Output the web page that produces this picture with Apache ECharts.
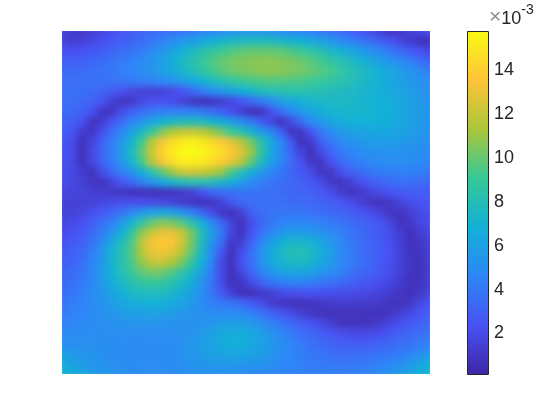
<!DOCTYPE html>
<html><head><meta charset="utf-8">
<style>html,body{margin:0;padding:0;background:#fff}#c{width:560px;height:420px}</style>
<script src="https://cdn.jsdelivr.net/npm/echarts@6/dist/echarts.min.js"></script>
</head><body><div id="c"></div>
<script>
// values in units of 1e-3, one list per row of the surface, top to bottom
const r00=[1.4,1.0,0.9,1.2,1.6,2.0,2.3,2.6,2.9,3.1,3.3,3.5,3.7,3.9,4.2,4.5,4.8,5.0,5.1,5.1,5.1,5.0,4.8,4.6,4.3,4.1,3.8,3.5,3.1,2.7,2.3,1.8,1.2,0.7,0.9,1.3,1.6,1.9];
const r01=[1.5,1.3,1.4,1.7,2.1,2.4,2.7,3.0,3.3,3.7,4.2,4.7,5.2,5.7,6.1,6.6,7.0,7.3,7.5,7.6,7.6,7.5,7.3,7.0,6.7,6.3,5.9,5.3,4.8,4.3,3.8,3.3,2.8,2.3,1.7,1.1,0.7,0.6];
const r02=[2.2,2.1,2.2,2.4,2.7,3.0,3.3,3.6,4.0,4.6,5.2,5.9,6.6,7.3,8.0,8.6,9.0,9.4,9.6,9.8,9.8,9.8,9.6,9.3,9.0,8.5,8.0,7.4,6.8,6.2,5.6,5.0,4.5,3.9,3.3,2.7,2.2,1.7];
const r03=[2.8,2.8,2.9,3.1,3.3,3.6,3.9,4.2,4.6,5.1,5.7,6.4,7.2,8.0,8.7,9.3,9.8,10.1,10.3,10.4,10.5,10.5,10.4,10.2,9.9,9.6,9.1,8.6,8.1,7.5,6.9,6.3,5.7,5.1,4.6,4.1,3.5,3.0];
const r04=[3.2,3.2,3.3,3.4,3.6,3.8,4.1,4.4,4.7,5.1,5.6,6.2,6.9,7.6,8.4,9.0,9.5,9.9,10.1,10.3,10.5,10.5,10.4,10.3,10.1,9.8,9.5,9.1,8.6,8.1,7.6,7.1,6.6,6.1,5.6,5.1,4.6,4.1];
const r05=[3.4,3.4,3.5,3.5,3.5,3.6,3.7,3.8,4.0,4.2,4.5,4.9,5.4,6.0,6.7,7.3,7.9,8.4,8.8,9.1,9.3,9.4,9.4,9.3,9.2,9.0,8.8,8.5,8.2,7.8,7.4,7.0,6.6,6.2,5.8,5.4,5.0,4.6];
const r06=[3.5,3.5,3.4,3.3,3.0,2.6,2.2,1.7,1.4,1.3,1.4,1.7,2.3,3.0,3.9,4.6,5.2,5.8,6.4,7.0,7.5,7.8,8.0,8.1,8.1,8.0,7.9,7.7,7.5,7.3,7.1,6.9,6.6,6.3,6.0,5.6,5.2,4.9];
const r07=[3.5,3.4,3.2,2.9,2.3,1.3,0.7,0.9,1.6,2.1,2.2,2.0,1.5,0.9,0.6,0.7,1.1,1.6,2.3,3.1,3.9,4.8,5.6,6.2,6.7,7.0,7.2,7.3,7.3,7.2,7.0,6.9,6.7,6.5,6.2,5.8,5.4,5.1];
const r08=[3.3,3.2,2.9,2.2,0.9,0.8,1.9,2.8,3.4,3.8,4.1,4.2,4.3,4.2,3.9,3.4,2.8,2.1,1.3,0.6,0.7,2.0,3.4,4.5,5.4,6.1,6.6,6.9,7.0,7.1,7.0,6.9,6.7,6.5,6.2,5.9,5.5,5.1];
const r09=[3.0,2.8,2.2,0.8,1.0,2.3,3.3,4.3,5.1,6.0,6.7,7.3,7.6,7.7,7.5,7.0,6.4,5.7,4.9,3.9,2.9,1.7,0.6,1.7,3.3,4.5,5.3,6.0,6.4,6.7,6.7,6.7,6.6,6.4,6.2,5.8,5.4,5.1];
const r10=[2.7,2.4,1.2,0.8,2.1,3.4,4.5,5.8,7.2,8.8,10.2,11.2,11.8,11.9,11.6,10.9,10.0,9.0,8.1,7.0,5.7,4.5,3.0,0.8,0.9,2.3,3.8,4.7,5.4,5.8,6.0,6.1,6.2,6.1,5.9,5.7,5.4,5.1];
const r11=[2.5,2.0,0.6,1.5,2.8,4.0,5.3,7.0,9.0,11.3,13.0,14.2,14.9,15.2,14.9,14.3,13.6,12.7,11.6,10.1,8.2,6.3,4.5,2.7,0.6,1.0,2.6,3.7,4.5,5.0,5.3,5.5,5.6,5.6,5.5,5.3,5.1,4.8];
const r12=[2.3,1.9,0.6,1.7,3.0,4.2,5.7,7.4,9.7,12.0,13.9,15.0,15.5,15.6,15.4,15.0,14.4,13.6,12.5,10.9,8.6,6.3,4.6,3.1,1.5,0.6,1.8,3.0,3.8,4.3,4.7,4.9,5.0,5.1,5.1,5.0,4.8,4.5];
const r13=[2.1,1.8,0.6,1.6,2.9,4.0,5.3,6.9,9.1,11.3,13.1,14.3,15.0,15.1,14.9,14.4,13.7,12.8,11.5,9.7,7.6,5.8,4.5,3.3,2.2,0.9,0.8,2.1,3.1,3.7,4.2,4.5,4.7,4.8,4.8,4.8,4.6,4.3];
const r14=[2.0,1.8,1.2,0.6,1.9,3.1,4.0,5.1,6.4,8.0,9.5,10.8,11.9,12.2,12.0,11.5,10.8,9.3,8.0,6.6,5.4,4.6,3.8,3.2,2.5,1.9,0.8,0.8,2.0,2.8,3.3,3.7,4.0,4.1,4.2,4.2,4.1,3.8];
const r15=[1.9,1.7,1.3,0.8,0.6,1.5,2.4,3.2,4.1,5.1,6.1,7.0,7.7,8.0,8.0,7.8,7.2,6.5,5.6,4.8,4.1,3.7,3.4,3.1,2.8,2.4,1.9,1.0,0.7,1.3,2.1,2.6,3.0,3.2,3.4,3.4,3.3,3.1];
const r16=[1.6,1.5,1.4,1.3,1.2,1.0,0.8,0.6,0.5,0.5,0.6,0.7,0.9,1.3,2.1,3.0,3.4,3.5,3.6,3.6,3.5,3.4,3.3,3.1,3.0,2.8,2.4,1.9,1.2,0.6,0.9,1.4,1.9,2.3,2.5,2.7,2.7,2.5];
const r17=[1.4,1.3,1.3,1.4,1.6,1.8,1.9,2.0,2.0,1.9,1.7,1.5,1.1,0.8,0.6,0.7,1.4,2.4,3.1,3.4,3.5,3.5,3.4,3.3,3.2,3.1,3.0,2.7,2.4,2.0,1.4,0.8,0.6,0.9,1.5,1.9,2.2,2.3];
const r18=[1.3,1.4,1.6,2.0,2.5,3.0,3.6,4.4,5.2,5.9,6.1,5.9,5.2,4.2,3.2,2.0,0.9,0.6,1.3,2.7,3.3,3.6,3.7,3.7,3.6,3.5,3.3,3.1,2.9,2.6,2.3,2.0,1.4,0.8,0.7,1.2,1.8,2.0];
const r19=[1.6,1.8,2.1,2.7,3.4,4.2,5.4,6.9,8.5,9.7,10.3,10.1,9.5,8.2,6.5,4.7,3.1,1.5,0.6,1.8,3.1,3.7,4.2,4.5,4.5,4.4,4.2,3.9,3.6,3.3,3.0,2.7,2.3,1.6,0.6,0.9,1.6,1.9];
const r20=[1.9,2.2,2.5,3.2,4.0,5.2,6.6,8.5,10.5,11.9,12.7,12.8,12.0,10.2,8.0,5.8,3.9,1.6,0.7,2.2,3.5,4.4,5.2,5.6,5.6,5.4,5.1,4.7,4.2,3.7,3.3,2.9,2.5,2.0,1.2,0.6,1.2,1.7];
const r21=[2.2,2.5,2.8,3.6,4.8,6.3,7.6,9.3,11.5,13.1,13.7,13.4,12.2,10.2,7.6,5.2,3.4,1.0,1.2,2.9,4.4,5.7,6.6,7.2,7.2,6.9,6.2,5.3,4.5,3.9,3.4,3.0,2.6,2.1,1.3,0.6,0.9,1.4];
const r22=[2.5,2.8,3.2,4.0,5.2,6.8,8.0,9.5,11.3,12.7,13.0,12.6,11.4,9.6,7.3,4.8,2.5,0.6,2.0,3.4,5.0,6.3,7.3,7.8,7.9,7.5,6.6,5.6,4.8,4.0,3.5,3.1,2.7,2.2,1.4,0.7,0.8,1.3];
const r23=[2.7,3.0,3.5,4.3,5.4,6.9,8.0,9.2,10.6,11.6,11.8,11.2,10.1,8.7,6.7,4.5,1.8,0.6,2.1,3.5,4.9,6.1,6.9,7.3,7.4,7.0,6.1,5.4,4.6,4.0,3.5,3.1,2.6,2.1,1.4,0.8,0.6,1.2];
const r24=[3.0,3.3,3.7,4.5,5.5,6.8,7.8,8.8,9.6,10.0,9.9,9.3,8.4,7.3,5.8,4.1,1.8,0.6,1.5,2.9,4.1,5.0,5.7,6.0,6.0,5.7,5.2,4.7,4.1,3.6,3.2,2.8,2.4,1.9,1.3,0.8,0.6,1.2];
const r25=[3.2,3.5,3.9,4.5,5.4,6.4,7.3,8.0,8.5,8.7,8.6,8.1,7.4,6.4,5.2,3.8,2.0,0.6,0.8,1.7,2.8,3.6,4.0,4.2,4.2,4.0,3.7,3.4,3.1,2.8,2.5,2.3,2.0,1.6,1.1,0.6,0.8,1.3];
const r26=[3.4,3.7,4.1,4.6,5.2,6.0,6.6,7.2,7.5,7.6,7.5,7.2,6.6,5.8,4.9,3.8,2.6,1.4,0.6,0.6,0.9,1.3,1.7,2.0,2.1,2.2,2.1,2.0,1.9,1.8,1.7,1.6,1.4,1.1,0.8,0.6,0.9,1.6];
const r27=[3.7,4.0,4.3,4.7,5.1,5.6,6.0,6.4,6.6,6.7,6.6,6.3,5.9,5.4,4.8,4.1,3.9,3.6,3.3,2.6,1.9,1.2,0.8,0.6,0.6,0.7,0.9,1.0,1.1,1.1,1.1,1.0,0.9,0.7,0.6,0.9,1.7,2.2];
const r28=[3.9,4.2,4.4,4.7,5.0,5.2,5.5,5.7,5.8,5.9,5.8,5.6,5.3,5.1,4.9,4.7,4.7,4.7,4.6,4.2,3.6,3.0,2.4,1.9,1.3,0.8,0.6,0.5,0.6,0.6,0.6,0.6,0.6,0.8,1.2,1.8,2.3,2.7];
const r29=[4.2,4.4,4.5,4.7,4.8,5.0,5.1,5.2,5.2,5.2,5.1,5.0,5.0,5.0,5.1,5.3,5.5,5.7,5.7,5.4,4.9,4.3,3.7,3.2,2.7,2.2,1.8,1.2,0.7,0.6,0.6,0.8,1.1,1.6,2.1,2.5,2.9,3.2];
const r30=[4.6,4.7,4.7,4.8,4.8,4.8,4.8,4.8,4.8,4.8,4.8,4.8,4.9,5.1,5.4,5.8,6.2,6.4,6.4,6.2,5.7,5.1,4.5,4.0,3.5,3.1,2.8,2.3,2.0,1.8,1.7,1.8,2.0,2.4,2.8,3.1,3.4,3.7];
const r31=[5.0,4.9,4.9,4.9,4.8,4.8,4.7,4.7,4.6,4.6,4.7,4.8,5.0,5.2,5.6,6.0,6.3,6.5,6.5,6.3,5.9,5.4,4.9,4.4,3.9,3.5,3.2,2.9,2.7,2.6,2.6,2.7,2.9,3.1,3.4,3.6,3.9,4.3];
const r32=[5.6,5.4,5.2,5.1,5.0,4.8,4.7,4.6,4.6,4.6,4.7,4.8,5.0,5.3,5.5,5.8,6.0,6.1,6.1,5.9,5.6,5.3,4.8,4.4,4.1,3.8,3.6,3.4,3.3,3.3,3.3,3.4,3.6,3.8,4.0,4.3,4.8,5.3];
const r33=[6.3,5.9,5.5,5.3,5.1,4.9,4.8,4.7,4.7,4.7,4.7,4.8,4.9,5.1,5.2,5.3,5.4,5.4,5.3,5.2,5.1,4.9,4.6,4.4,4.2,4.0,3.9,3.8,3.8,3.8,3.9,4.0,4.2,4.5,4.9,5.4,6.0,6.5];
const r34=[7.0,6.5,6.0,5.6,5.3,5.1,4.9,4.8,4.8,4.8,4.8,4.8,4.8,4.9,4.9,5.0,5.0,4.9,4.8,4.7,4.6,4.5,4.4,4.3,4.2,4.1,4.1,4.1,4.1,4.1,4.2,4.4,4.7,5.0,5.5,6.0,6.6,7.2];
const rows=[r00,r01,r02,r03,r04,r05,r06,r07,r08,r09,r10,r11,r12,r13,r14,r15,r16,r17,r18,r19,r20,r21,r22,r23,r24,r25,r26,r27,r28,r29,r30,r31,r32,r33,r34];
const colorbarTicks=[2,4,6,8,10,12,14];
const parula=['#3e26a8','#4852f4','#2d87f7','#12b1d6','#37c897','#abc739','#fec338','#f9fb14'];
const scaleMax=15.6;

const cells=[];
rows.forEach((row,j)=>row.forEach((v,i)=>cells.push([i,j,v])));
const xCats=r00.map((_,i)=>String(i));
const yCats=rows.map((_,j)=>String(j));

const chart=echarts.init(document.getElementById('c'),null,{renderer:'canvas'});
const barStops=parula.map((c,i)=>({offset:1-i/(parula.length-1),color:c}));
chart.setOption({
  animation:false,
  backgroundColor:'#fff',
  title:{left:489,top:0,padding:0,text:'{a|×}{b|10}{c|-3}',textStyle:{fontWeight:'normal',rich:{
    a:{fontFamily:'Liberation Sans',fontSize:21,fontWeight:'normal',color:'#8a8a8a',lineHeight:28,verticalAlign:'bottom'},
    b:{fontFamily:'Liberation Sans',fontSize:18,fontWeight:'normal',color:'#262626',lineHeight:28,verticalAlign:'bottom'},
    c:{fontFamily:'Liberation Sans',fontSize:14,fontWeight:'normal',color:'#262626',lineHeight:28,verticalAlign:'top',padding:[3,0,0,0]}}}},
  grid:[
    {left:57,top:26,width:378,height:353,containLabel:false},
    {left:467,top:31,width:21,height:343}
  ],
  xAxis:[
    {gridIndex:0,type:'category',data:xCats,show:false},
    {gridIndex:1,type:'category',data:['c'],show:false}
  ],
  yAxis:[
    {gridIndex:0,type:'category',data:yCats,inverse:true,show:false},
    {gridIndex:1,type:'value',min:0,max:scaleMax,interval:2,position:'right',
     splitLine:{show:false},axisLine:{show:false},
     axisTick:{show:true,inside:true,length:3,lineStyle:{color:'#262626',width:1}},
     showMinLabel:false,showMaxLabel:false,
     axisLabel:{show:true,margin:6,verticalAlign:'top',lineHeight:7,fontFamily:'Liberation Sans',fontSize:18,color:'#262626',
       customValues:colorbarTicks}}
  ],
  visualMap:{show:false,seriesIndex:0,min:0,max:scaleMax,inRange:{color:parula}},
  series:[
    {type:'heatmap',xAxisIndex:0,yAxisIndex:0,data:cells,progressive:0,zlevel:1,emphasis:{disabled:true},silent:true},
    {type:'bar',xAxisIndex:1,yAxisIndex:1,data:[scaleMax],barWidth:'100%',silent:true,
     itemStyle:{color:new echarts.graphic.LinearGradient(0,0,0,1,barStops)}}
  ],
  graphic:[{type:'rect',z:100,silent:true,shape:{x:467.5,y:31.5,width:21,height:343},
    style:{fill:'none',stroke:'#262626',lineWidth:1}}]
});
function soften(){
  const cv=document.querySelector('canvas[data-zr-dom-id="zr_1"]');
  if(cv){cv.style.filter='blur(3px)';cv.style.clipPath='inset(31px 130px 46px 62px)';}
}
soften();
chart.on('finished',soften);
</script></body></html>
